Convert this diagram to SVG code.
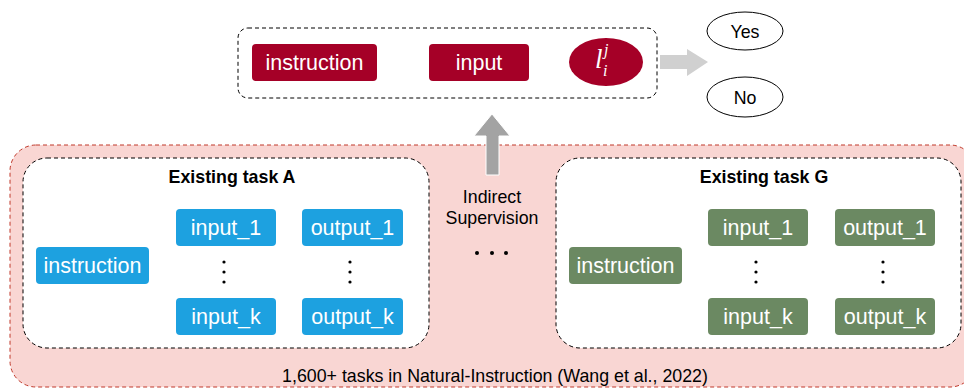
<svg xmlns="http://www.w3.org/2000/svg" width="964" height="388" viewBox="0 0 964 388">
<style>
.t{font-family:"Liberation Sans",Arial,sans-serif;font-size:21.5px;fill:#fff;text-anchor:middle}
.b{font-family:"Liberation Sans",Arial,sans-serif;font-size:17.8px;fill:#000;text-anchor:middle}
.bold{font-weight:bold}
.m{font-family:"Liberation Serif","Times New Roman",serif;font-style:italic;fill:#fff}
.red{fill:#A50027}
.blue{fill:#1DA1E0}
.green{fill:#6B8962}
.dot{fill:#000}
</style>
<g id="pool">
<rect x="10" y="145" width="966" height="242" rx="26" fill="#F9D6D3" stroke="#C0392B" stroke-width="1" stroke-dasharray="4,3"/>
<text class="b" x="495" y="382">1,600+ tasks in Natural-Instruction (Wang et al., 2022)</text>
</g>
<g id="query">
<rect x="238" y="28" width="419" height="70" rx="10" fill="#fff" stroke="#000" stroke-width="1" stroke-dasharray="4,3"/>
<rect class="red" x="252" y="44" width="125" height="37" rx="4"/>
<text class="t" x="314.5" y="70">instruction</text>
<rect class="red" x="429" y="44" width="100" height="37" rx="4"/>
<text class="t" x="479" y="70">input</text>
<ellipse class="red" cx="606" cy="62" rx="37" ry="24"/>
<text class="m" x="595" y="68" font-size="27">l</text>
<text class="m" x="604" y="55" font-size="16">j</text>
<text class="m" x="603" y="76" font-size="16">i</text>
</g>
<g id="yes">
<ellipse cx="745" cy="31" rx="38" ry="19" fill="#fff" stroke="#000" stroke-width="1"/>
<text class="b" x="745" y="38" font-size="21">Yes</text>
</g>
<g id="no">
<ellipse cx="745" cy="97" rx="38" ry="20" fill="#fff" stroke="#000" stroke-width="1"/>
<text class="b" x="745" y="104" font-size="21">No</text>
</g>
<g id="taskA">
<rect x="23" y="158" width="406" height="190" rx="24" fill="#fff" stroke="#000" stroke-width="1" stroke-dasharray="4,3"/>
<text class="b bold" x="232" y="183">Existing task A</text>
<rect class="blue" x="36" y="247" width="113" height="37" rx="4"/>
<text class="t" x="92.5" y="273">instruction</text>
<rect class="blue" x="176" y="209" width="100" height="37" rx="4"/>
<text class="t" x="226" y="235">input_1</text>
<rect class="blue" x="176" y="298" width="100" height="37" rx="4"/>
<text class="t" x="226" y="324">input_k</text>
<rect class="blue" x="302" y="209" width="101" height="37" rx="4"/>
<text class="t" x="352.5" y="235">output_1</text>
<rect class="blue" x="302" y="298" width="101" height="37" rx="4"/>
<text class="t" x="352.5" y="324">output_k</text>
<circle class="dot" cx="224" cy="262" r="1.6"/><circle class="dot" cx="224" cy="272" r="1.6"/><circle class="dot" cx="224" cy="282" r="1.6"/>
<circle class="dot" cx="350" cy="262" r="1.6"/><circle class="dot" cx="350" cy="272" r="1.6"/><circle class="dot" cx="350" cy="282" r="1.6"/>
</g>
<g id="taskG">
<rect x="556" y="158" width="405" height="190" rx="24" fill="#fff" stroke="#000" stroke-width="1" stroke-dasharray="4,3"/>
<text class="b bold" x="764" y="183">Existing task G</text>
<rect class="green" x="569" y="247" width="113" height="37" rx="4"/>
<text class="t" x="625.5" y="273">instruction</text>
<rect class="green" x="708" y="209" width="100" height="37" rx="4"/>
<text class="t" x="758" y="235">input_1</text>
<rect class="green" x="708" y="298" width="100" height="37" rx="4"/>
<text class="t" x="758" y="324">input_k</text>
<rect class="green" x="835" y="209" width="100" height="37" rx="4"/>
<text class="t" x="885" y="235">output_1</text>
<rect class="green" x="835" y="298" width="100" height="37" rx="4"/>
<text class="t" x="885" y="324">output_k</text>
<circle class="dot" cx="756" cy="262" r="1.6"/><circle class="dot" cx="756" cy="272" r="1.6"/><circle class="dot" cx="756" cy="282" r="1.6"/>
<circle class="dot" cx="883" cy="262" r="1.6"/><circle class="dot" cx="883" cy="272" r="1.6"/><circle class="dot" cx="883" cy="282" r="1.6"/>
</g>
<g id="connectors">
<polygon points="660,55 687,55 687,49 708,62 687,76 687,69 660,69" fill="#D0D0D0"/>
<polygon points="486,175 486,136 474,136 492,114 510,136 499,136 499,175" fill="#A3A3A3" stroke="#fff" stroke-width="1"/>
<text class="b" x="492" y="203">Indirect</text>
<text class="b" x="492" y="224">Supervision</text>
<circle class="dot" cx="477" cy="253" r="2"/><circle class="dot" cx="492" cy="253" r="2"/><circle class="dot" cx="506" cy="253" r="2"/>
</g>
</svg>
